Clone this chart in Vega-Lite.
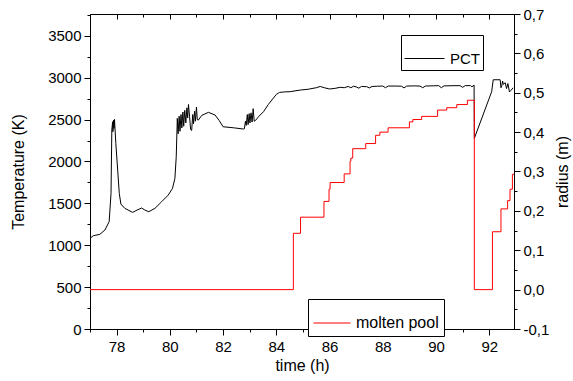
{
  "$schema": "https://vega.github.io/schema/vega-lite/v6.json",
  "width": 424,
  "height": 315,
  "autosize": {"type": "none"},
  "padding": {"left": 90, "top": 14, "right": 59, "bottom": 52},
  "background": "white",
  "config": {
    "font": "Liberation Sans",
    "view": {"stroke": "black", "strokeWidth": 1},
    "axis": {
      "grid": false,
      "domainColor": "black",
      "tickColor": "black",
      "labelColor": "black",
      "titleColor": "black",
      "labelFont": "Liberation Sans",
      "titleFont": "Liberation Sans",
      "labelFontSize": 15,
      "titleFontSize": 16,
      "titleFontWeight": "normal",
      "labelOverlap": false,
      "labelFlush": false
    },
    "legend": {
      "orient": "none",
      "strokeColor": "black",
      "fillColor": "white",
      "symbolType": "stroke",
      "symbolStrokeWidth": 1,
      "labelFont": "Liberation Sans",
      "labelColor": "black"
    }
  },
  "datasets": {
    "pct": [
      {"t": 77.0, "T": 1082}, {"t": 77.12, "T": 1113}, {"t": 77.37, "T": 1130}, {"t": 77.56, "T": 1181},
      {"t": 77.72, "T": 1281}, {"t": 77.79, "T": 1619}, {"t": 77.82, "T": 2375}, {"t": 77.85, "T": 2474},
      {"t": 77.86, "T": 2355}, {"t": 77.89, "T": 2494}, {"t": 77.9, "T": 2395}, {"t": 77.92, "T": 2502},
      {"t": 77.97, "T": 2216}, {"t": 78.04, "T": 1897}, {"t": 78.1, "T": 1619}, {"t": 78.16, "T": 1492},
      {"t": 78.31, "T": 1440}, {"t": 78.6, "T": 1392}, {"t": 78.77, "T": 1420}, {"t": 78.94, "T": 1444},
      {"t": 79.06, "T": 1420}, {"t": 79.21, "T": 1400}, {"t": 79.44, "T": 1440}, {"t": 79.69, "T": 1519},
      {"t": 79.94, "T": 1599}, {"t": 80.1, "T": 1679}, {"t": 80.19, "T": 1798}, {"t": 80.24, "T": 2056},
      {"t": 80.28, "T": 2514}, {"t": 80.31, "T": 2330}, {"t": 80.35, "T": 2540}, {"t": 80.38, "T": 2360},
      {"t": 80.42, "T": 2560}, {"t": 80.45, "T": 2400}, {"t": 80.49, "T": 2590}, {"t": 80.52, "T": 2420},
      {"t": 80.56, "T": 2610}, {"t": 80.6, "T": 2460}, {"t": 80.64, "T": 2640}, {"t": 80.67, "T": 2520},
      {"t": 80.7, "T": 2680}, {"t": 80.74, "T": 2540}, {"t": 80.78, "T": 2380}, {"t": 80.82, "T": 2370},
      {"t": 80.86, "T": 2560}, {"t": 80.89, "T": 2450}, {"t": 80.93, "T": 2600}, {"t": 80.96, "T": 2480},
      {"t": 81.0, "T": 2650}, {"t": 81.03, "T": 2500}, {"t": 81.07, "T": 2494}, {"t": 81.2, "T": 2550},
      {"t": 81.45, "T": 2586}, {"t": 81.7, "T": 2554}, {"t": 81.85, "T": 2490}, {"t": 82.0, "T": 2414},
      {"t": 82.39, "T": 2402}, {"t": 82.76, "T": 2387}, {"t": 82.8, "T": 2390}, {"t": 82.84, "T": 2480},
      {"t": 82.87, "T": 2430}, {"t": 82.91, "T": 2560}, {"t": 82.94, "T": 2440}, {"t": 82.98, "T": 2570},
      {"t": 83.01, "T": 2460}, {"t": 83.05, "T": 2580}, {"t": 83.09, "T": 2470}, {"t": 83.13, "T": 2630},
      {"t": 83.17, "T": 2480}, {"t": 83.22, "T": 2490}, {"t": 83.35, "T": 2540}, {"t": 83.52, "T": 2594},
      {"t": 83.7, "T": 2680}, {"t": 83.83, "T": 2733}, {"t": 84.0, "T": 2800}, {"t": 84.12, "T": 2824},
      {"t": 84.3, "T": 2830}, {"t": 84.52, "T": 2833}, {"t": 84.9, "T": 2852}, {"t": 85.2, "T": 2862},
      {"t": 85.5, "T": 2880}, {"t": 85.65, "T": 2895}, {"t": 85.8, "T": 2880}, {"t": 86.0, "T": 2865},
      {"t": 86.2, "T": 2872}, {"t": 86.4, "T": 2885}, {"t": 86.55, "T": 2880}, {"t": 86.7, "T": 2895},
      {"t": 86.8, "T": 2880}, {"t": 86.9, "T": 2898}, {"t": 87.0, "T": 2890}, {"t": 87.1, "T": 2875},
      {"t": 87.2, "T": 2895}, {"t": 87.4, "T": 2892}, {"t": 87.5, "T": 2878}, {"t": 87.6, "T": 2895},
      {"t": 87.8, "T": 2898}, {"t": 88.0, "T": 2900}, {"t": 88.1, "T": 2880}, {"t": 88.2, "T": 2900},
      {"t": 88.5, "T": 2900}, {"t": 88.7, "T": 2898}, {"t": 88.8, "T": 2878}, {"t": 88.9, "T": 2900},
      {"t": 89.2, "T": 2902}, {"t": 89.4, "T": 2900}, {"t": 89.5, "T": 2880}, {"t": 89.6, "T": 2900},
      {"t": 89.9, "T": 2903}, {"t": 90.1, "T": 2905}, {"t": 90.2, "T": 2880}, {"t": 90.3, "T": 2902},
      {"t": 90.6, "T": 2904}, {"t": 90.9, "T": 2905}, {"t": 91.0, "T": 2885}, {"t": 91.1, "T": 2905},
      {"t": 91.3, "T": 2905}, {"t": 91.35, "T": 2890}, {"t": 91.43, "T": 2912}, {"t": 91.44, "T": 2276},
      {"t": 92.09, "T": 2832}, {"t": 92.15, "T": 2975}, {"t": 92.41, "T": 2975}, {"t": 92.44, "T": 2880},
      {"t": 92.47, "T": 2900}, {"t": 92.5, "T": 2960}, {"t": 92.53, "T": 2920}, {"t": 92.6, "T": 2940},
      {"t": 92.65, "T": 2870}, {"t": 92.7, "T": 2930}, {"t": 92.76, "T": 2830}, {"t": 92.82, "T": 2850},
      {"t": 92.9, "T": 2880}
    ],
    "pool": [
      {"t": 77.0, "r": 0}, {"t": 84.64, "r": 0.143}, {"t": 84.91, "r": 0.184}, {"t": 85.79, "r": 0.224},
      {"t": 85.98, "r": 0.255}, {"t": 86.02, "r": 0.272}, {"t": 86.55, "r": 0.294}, {"t": 86.77, "r": 0.326},
      {"t": 86.8, "r": 0.334}, {"t": 86.87, "r": 0.358}, {"t": 87.36, "r": 0.371}, {"t": 87.73, "r": 0.392},
      {"t": 87.89, "r": 0.4}, {"t": 88.2, "r": 0.411}, {"t": 89.0, "r": 0.426}, {"t": 89.13, "r": 0.432},
      {"t": 89.46, "r": 0.44}, {"t": 90.06, "r": 0.456}, {"t": 90.4, "r": 0.462}, {"t": 90.78, "r": 0.47},
      {"t": 91.18, "r": 0.481}, {"t": 91.44, "r": 0}, {"t": 92.12, "r": 0.147}, {"t": 92.44, "r": 0.205},
      {"t": 92.69, "r": 0.226}, {"t": 92.78, "r": 0.255}, {"t": 92.87, "r": 0.293}, {"t": 92.93, "r": 0.293}
    ]
  },
  "layer": [
    {
      "data": {"name": "pct"},
      "mark": {"type": "line", "strokeWidth": 1, "clip": true},
      "encoding": {
        "x": {
          "field": "t", "type": "quantitative",
          "scale": {"domain": [77, 92.93], "nice": false, "zero": false},
          "axis": {
            "orient": "bottom",
            "values": [77, 78, 79, 80, 81, 82, 83, 84, 85, 86, 87, 88, 89, 90, 91, 92],
            "labelExpr": "datum.value % 2 === 0 ? format(datum.value, 'd') : ''",
            "tickSize": {"condition": {"test": "datum.value % 2 === 0", "value": 6}, "value": 3},
            "labelPadding": 4,
            "title": "time (h)",
            "titlePadding": 3
          }
        },
        "y": {
          "field": "T", "type": "quantitative",
          "scale": {"domain": [0, 3760], "nice": false},
          "axis": {
            "orient": "left",
            "values": [0, 250, 500, 750, 1000, 1250, 1500, 1750, 2000, 2250, 2500, 2750, 3000, 3250, 3500, 3750],
            "labelExpr": "datum.value % 500 === 0 ? format(datum.value, 'd') : ''",
            "tickSize": {"condition": {"test": "datum.value % 500 === 0", "value": 6}, "value": 3},
            "labelPadding": 3,
            "title": "Temperature (K)",
            "titlePadding": 21
          }
        },
        "color": {
          "datum": "PCT",
          "scale": {"range": ["#000000"]},
          "legend": {"title": null, "legendX": 311, "legendY": 21, "padding": 3, "labelFontSize": 15, "symbolSize": 1600, "labelOffset": 5}
        }
      }
    },
    {
      "data": {"name": "pool"},
      "mark": {"type": "line", "interpolate": "step-after", "strokeWidth": 1, "clip": true},
      "encoding": {
        "x": {
          "field": "t", "type": "quantitative",
          "scale": {"domain": [77, 92.93], "nice": false, "zero": false},
          "axis": {
            "orient": "top",
            "values": [77, 78, 79, 80, 81, 82, 83, 84, 85, 86, 87, 88, 89, 90, 91, 92],
            "labels": false,
            "domain": false,
            "tickSize": {"condition": {"test": "datum.value % 2 === 0", "value": -5}, "value": -3},
            "title": null
          }
        },
        "y": {
          "field": "r", "type": "quantitative",
          "scale": {"domain": [-0.1, 0.7], "nice": false, "zero": false},
          "axis": {
            "orient": "right",
            "values": [-0.1, -0.05, 0, 0.05, 0.1, 0.15, 0.2, 0.25, 0.3, 0.35, 0.4, 0.45, 0.5, 0.55, 0.6, 0.65, 0.7],
            "labelExpr": "round(datum.value * 20) % 2 === 0 ? (datum.value < -0.001 ? '-' : '') + replace(format(abs(datum.value), '.1f'), '.', ',') : ''",
            "tickSize": {"condition": {"test": "round(datum.value * 20) % 2 === 0", "value": 6}, "value": 3},
            "labelPadding": 3,
            "title": "radius (m)",
            "titleAngle": 270,
            "titlePadding": 22
          }
        },
        "color": {
          "datum": "molten pool",
          "scale": {"range": ["#ff0000"]},
          "legend": {"title": null, "legendX": 218, "legendY": 285, "padding": 5, "labelFontSize": 16, "symbolSize": 1369, "labelOffset": 5}
        }
      }
    }
  ],
  "resolve": {
    "scale": {"y": "independent", "color": "independent"},
    "axis": {"x": "independent"}
  }
}
